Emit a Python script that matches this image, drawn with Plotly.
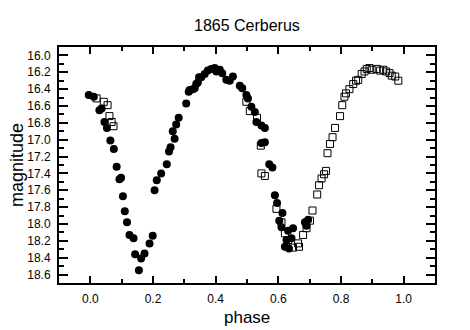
import plotly.graph_objects as go

# Filled circles: phase and magnitude
circle_phase = [-0.005, 0.011, 0.029, 0.036, 0.045, 0.053, 0.064, 0.075, 0.084, 0.093,
                0.098, 0.104, 0.110, 0.117, 0.125, 0.138, 0.143, 0.155, 0.162, 0.173,
                0.189, 0.199, 0.205, 0.212, 0.226, 0.244, 0.251, 0.256, 0.263, 0.269,
                0.274, 0.282, 0.306, 0.314, 0.317, 0.327, 0.333, 0.338, 0.343, 0.347,
                0.354, 0.365, 0.375, 0.386, 0.397, 0.402, 0.413, 0.421, 0.434, 0.445,
                0.455, 0.477, 0.485, 0.498, 0.503, 0.514, 0.525, 0.530, 0.546, 0.557,
                0.546, 0.557, 0.571, 0.581, 0.589, 0.596, 0.613, 0.603, 0.610, 0.631,
                0.647, 0.626, 0.642, 0.621, 0.634, 0.685, 0.695, 0.690]
circle_mag = [16.47, 16.49, 16.65, 16.63, 16.79, 16.86, 17.01, 17.11, 17.32, 17.47,
              17.45, 17.67, 17.85, 17.98, 18.13, 18.17, 18.36, 18.55, 18.41, 18.35,
              18.23, 18.14, 17.60, 17.48, 17.40, 17.29, 17.14, 17.09, 16.90, 16.99,
              16.82, 16.74, 16.57, 16.43, 16.41, 16.40, 16.39, 16.34, 16.32, 16.26,
              16.26, 16.22, 16.18, 16.16, 16.15, 16.19, 16.17, 16.21, 16.29, 16.30,
              16.25, 16.36, 16.39, 16.47, 16.51, 16.61, 16.67, 16.79, 16.83, 16.86,
              17.04, 17.03, 17.29, 17.33, 17.66, 17.75, 17.87, 17.96, 18.04, 18.08,
              18.05, 18.19, 18.17, 18.27, 18.29, 17.98, 17.95, 18.02]

# Open squares: phase and magnitude
square_phase = [0.020, 0.043, 0.055, 0.061, 0.068, 0.074, 0.498, 0.509, 0.532, 0.544,
                0.546, 0.557, 0.594, 0.610, 0.621, 0.631, 0.647, 0.666, 0.663, 0.679,
                0.690, 0.701, 0.709, 0.724, 0.730, 0.738, 0.746, 0.752, 0.757, 0.765,
                0.773, 0.781, 0.797, 0.804, 0.811, 0.816, 0.827, 0.839, 0.848, 0.855,
                0.866, 0.875, 0.882, 0.891, 0.898, 0.914, 0.925, 0.935, 0.944, 0.955,
                0.962, 0.973, 0.983]
square_mag = [16.51, 16.55, 16.59, 16.72, 16.79, 16.84, 16.55, 16.66, 16.74, 17.07,
              17.40, 17.43, 17.82, 17.98, 18.11, 18.19, 18.28, 18.27, 18.23, 18.13,
              18.05, 17.96, 17.84, 17.65, 17.54, 17.46, 17.41, 17.37, 17.16, 17.05,
              16.97, 16.86, 16.72, 16.59, 16.49, 16.45, 16.40, 16.34, 16.30, 16.29,
              16.22, 16.19, 16.16, 16.15, 16.17, 16.16, 16.18, 16.17, 16.19, 16.21,
              16.24, 16.25, 16.30]

FONT = "Liberation Sans, Arial, sans-serif"

fig = go.Figure()
fig.add_trace(go.Scatter(
    x=square_phase, y=square_mag, mode="markers",
    marker=dict(symbol="square-open", size=7, color="black", line=dict(width=1, color="black")),
    showlegend=False,
))
fig.add_trace(go.Scatter(
    x=circle_phase, y=circle_mag, mode="markers",
    marker=dict(symbol="circle", size=8, color="black", line=dict(width=0)),
    showlegend=False,
))

axis_common = dict(
    showline=True, linewidth=2, linecolor="black", mirror="allticks",
    ticks="inside", tickwidth=2, tickcolor="black",
    showgrid=False, zeroline=False,
    tickfont=dict(family=FONT, size=12, color="black"),
)

fig.update_xaxes(
    range=[-0.1, 1.1], dtick=0.2, tick0=0, tickformat=".1f", ticklen=7,
    minor=dict(dtick=0.1, tick0=0, ticks="inside", ticklen=4, tickwidth=2, tickcolor="black"),
    ticklabelstandoff=4,
    **axis_common,
)
fig.update_yaxes(
    range=[18.7, 15.9], dtick=0.2, tick0=16.0, tickformat=".1f", ticklen=9,
    minor=dict(dtick=0.1, tick0=16.0, ticks="inside", ticklen=5, tickwidth=2, tickcolor="black"),
    ticklabelstandoff=4,
    **axis_common,
)

fig.update_layout(
    width=470, height=330,
    margin=dict(l=59, r=35, t=47, b=47),
    paper_bgcolor="white", plot_bgcolor="white",
    font=dict(family=FONT, color="black"),
    annotations=[
        dict(text="1865 Cerberus", xref="paper", yref="paper", x=0.5, y=1 + 22 / 236,
             xanchor="center", yanchor="middle", showarrow=False,
             font=dict(family=FONT, size=16, color="black")),
        dict(text="phase", xref="paper", yref="paper", x=0.5, y=-34 / 236,
             xanchor="center", yanchor="middle", showarrow=False,
             font=dict(family=FONT, size=17, color="black")),
        dict(text="magnitude", xref="paper", yref="paper", x=-42 / 376, y=0.5,
             xanchor="center", yanchor="middle", showarrow=False, textangle=-90,
             font=dict(family=FONT, size=18, color="black")),
    ],
)

fig.write_html("out.html")
